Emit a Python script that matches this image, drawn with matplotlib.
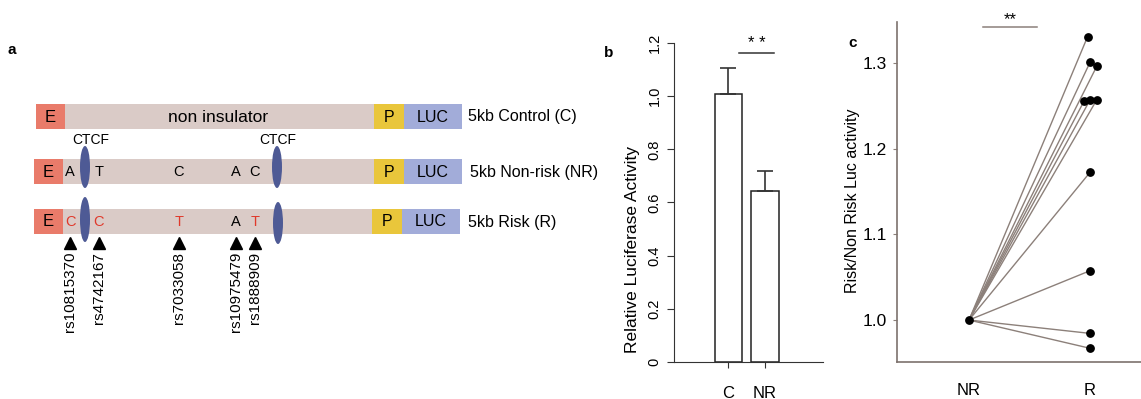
import matplotlib
matplotlib.use('Agg')
import matplotlib.pyplot as plt
from matplotlib.patches import Rectangle, Ellipse

plt.rcParams['font.family'] = ['Liberation Sans', 'DejaVu Sans']

# ---- data ----
construct_labels = ['5kb Control (C)', '5kb Non-risk (NR)', '5kb Risk (R)']
snp_ids = ['rs10815370', 'rs4742167', 'rs7033058', 'rs10975479', 'rs1888909']
nonrisk_alleles = ['A', 'T', 'C', 'A', 'C']
risk_alleles = ['C', 'C', 'T', 'A', 'T']
risk_changed = [True, True, True, False, True]

b_categories = ['C', 'NR']
b_values = [1.01, 0.645]
b_errors = [0.095, 0.075]

c_categories = ['NR', 'R']
c_nr_value = 1.0
c_r_values = [1.331, 1.301, 1.297, 1.2555, 1.257, 1.257, 1.1725, 1.0576, 0.9844, 0.967]
c_r_jitter = [-0.02, 0.0, 0.058, -0.05, 0.0, 0.055, 0.0, 0.0, 0.0, 0.0]

# ---- colours ----
col_body = '#dacbc7'
col_e = '#e97b6a'
col_p = '#e9c63b'
col_luc = '#a2acd9'
col_ctcf = '#4e5a95'
col_red = '#e0392b'
col_line = '#8c807a'

fig = plt.figure(figsize=(11.41, 3.99), dpi=100)

# ---- panel a: schematic drawn in pixel coordinates ----
axa = fig.add_axes([0, 0, 1, 1])
axa.set_xlim(0, 1141)
axa.set_ylim(399, 0)
axa.axis('off')

row_y = [116, 171.5, 221]
row_h = 25
x_start = [36, 34, 34]
x_end = [462, 462, 460]
p_start = [374, 374, 372]
p_w = 30
e_w = 29
for i, y in enumerate(row_y):
    x0, x1, p0 = x_start[i], x_end[i], p_start[i]
    axa.add_patch(Rectangle((x0, y - row_h / 2), x1 - x0, row_h, color=col_body, lw=0))
    axa.add_patch(Rectangle((x0, y - row_h / 2), e_w, row_h, color=col_e, lw=0))
    axa.add_patch(Rectangle((p0, y - row_h / 2), p_w, row_h, color=col_p, lw=0))
    axa.add_patch(Rectangle((p0 + p_w, y - row_h / 2), x1 - p0 - p_w, row_h, color=col_luc, lw=0))
    axa.text(x0 + e_w / 2, y + 1, 'E', ha='center', va='center', fontsize=12)
    axa.text(p0 + p_w / 2, y + 1, 'P', ha='center', va='center', fontsize=11.5)
    axa.text((p0 + p_w + x1) / 2, y + 1, 'LUC', ha='center', va='center', fontsize=11.5)
    axa.text(x1 + 6 if i == 0 else x1 + 8, y + 1, construct_labels[i], ha='left', va='center', fontsize=11.5)

axa.text(218, 117, 'non insulator', ha='center', va='center', fontsize=12.5)

# CTCF sites
ctcf_x = [85, 277]
for cx in ctcf_x:
    axa.text(cx + 6 if cx < 100 else cx + 1, 140, 'CTCF', ha='center', va='center', fontsize=10)
axa.add_patch(Ellipse((85, 167), 10, 42, color=col_ctcf, lw=0))
axa.add_patch(Ellipse((277, 167), 10, 42, color=col_ctcf, lw=0))
axa.add_patch(Ellipse((85, 219.5), 10, 45, color=col_ctcf, lw=0))
axa.add_patch(Ellipse((278, 223), 10, 42, color=col_ctcf, lw=0))

snp_x = [70, 99, 179, 236, 255]
for i, sx in enumerate(snp_x):
    axa.text(sx, row_y[1] + 1, nonrisk_alleles[i], ha='center', va='center', fontsize=10.5)
    axa.text(sx, row_y[2] + 1, risk_alleles[i], ha='center', va='center', fontsize=10.5,
             color=col_red if risk_changed[i] else 'black')
    axa.plot(sx, 243, marker='^', color='black', markersize=8)
    axa.text(sx, 252, snp_ids[i], rotation=90, ha='center', va='top', fontsize=11)

axa.text(12, 50, 'a', fontweight='bold', fontsize=11, ha='center', va='center')
axa.text(609, 53, 'b', fontweight='bold', fontsize=11, ha='center', va='center')
axa.text(853, 43, 'c', fontweight='bold', fontsize=11, ha='center', va='center')

# ---- panel b ----
axb = fig.add_axes([674 / 1141, 37 / 399, 149 / 1141, 319 / 399])
axb.patch.set_alpha(0)
xb = [0, 1]
axb.bar(xb, b_values, width=0.75, color='white', edgecolor='#222222', linewidth=1.1)
axb.errorbar(xb, b_values, yerr=[[0, 0], b_errors], fmt='none', ecolor='#333333',
             elinewidth=1.2, capsize=6, capthick=1.2)
axb.set_xlim(-1.49, 2.59)
axb.set_ylim(0, 1.2)
axb.set_yticks([0, 0.2, 0.4, 0.6, 0.8, 1.0, 1.2])
axb.set_yticklabels(['0', '0.2', '0.4', '0.6', '0.8', '1.0', '1.2'], rotation=90, va='center')
axb.set_xticks(xb)
axb.set_xticklabels(b_categories)
axb.tick_params(axis='y', length=5, pad=4, labelsize=10.5, color='#333333')
axb.tick_params(axis='x', length=4, pad=13, labelsize=12, color='#333333')
for s in ['top', 'right']:
    axb.spines[s].set_visible(False)
for s in ['left', 'bottom']:
    axb.spines[s].set_color('#333333')
axb.set_ylabel('Relative Luciferase Activity', fontsize=12.5)
axb.yaxis.set_label_coords(-0.228, 0.353)
axb.plot([0.29, 1.25], [1.162, 1.162], color='#333333', lw=1.1, clip_on=False)
axb.text(0.78, 1.197, '* *', ha='center', va='center', fontsize=12, clip_on=False)

# ---- panel c ----
axc = fig.add_axes([897 / 1141, 37 / 399, 244 / 1141, 340 / 399])
axc.patch.set_alpha(0)
for v, dx in zip(c_r_values, c_r_jitter):
    axc.plot([0, 1 + dx], [c_nr_value, v], color=col_line, lw=1.0, zorder=1)
axc.scatter([1 + dx for dx in c_r_jitter], c_r_values, s=28, color='black', zorder=3)
axc.scatter([0], [c_nr_value], s=28, color='black', zorder=3)
axc.set_xlim(-0.595, 1.421)
axc.set_ylim(0.951, 1.348)
axc.set_yticks([1.0, 1.1, 1.2, 1.3])
axc.set_yticklabels(['1.0', '1.1', '1.2', '1.3'])
axc.set_xticks([0, 1])
axc.set_xticklabels(c_categories)
axc.tick_params(axis='y', length=3, pad=4, labelsize=12.5, color=col_line)
axc.tick_params(axis='x', length=0, pad=15, labelsize=12)
for s in ['top', 'right']:
    axc.spines[s].set_visible(False)
for s in ['left', 'bottom']:
    axc.spines[s].set_color('#7d726d')
    axc.spines[s].set_linewidth(1.2)
axc.set_ylabel('Risk/Non Risk Luc activity', fontsize=11.5)
axc.yaxis.set_label_coords(-0.152, 0.474)
axc.plot([0.116, 0.562], [1.342, 1.342], color=col_line, lw=1.1, clip_on=False)
axc.text(0.34, 1.351, '**', ha='center', va='center', fontsize=12, clip_on=False)

plt.savefig('out.png', dpi=100)
